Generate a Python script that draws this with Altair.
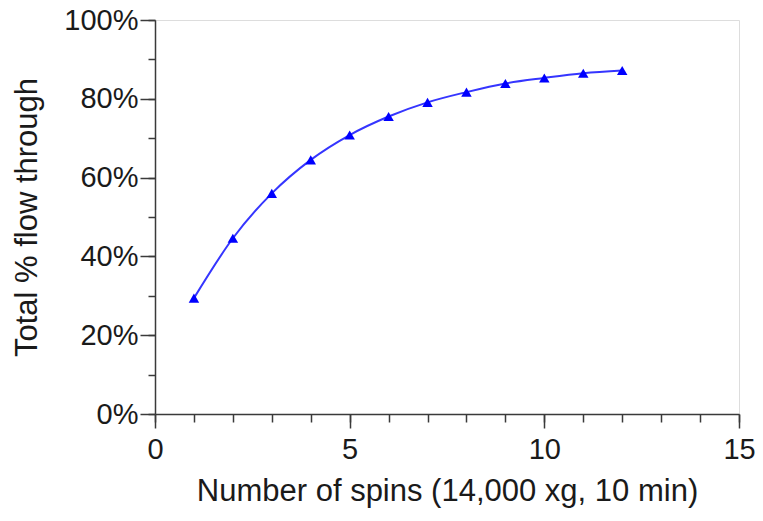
import altair as alt
import pandas as pd

spins = [1, 2, 3, 4, 5, 6, 7, 8, 9, 10, 11, 12]
flow_pct = [29.4, 44.6, 56.0, 64.5, 70.8, 75.5, 79.1, 81.7, 83.9, 85.3, 86.5, 87.2]

x_major = [0, 5, 10, 15]
x_minor = list(range(0, 16))
y_major = [0, 20, 40, 60, 80, 100]
y_minor = list(range(0, 101, 10))

df = pd.DataFrame({"spins": spins, "flow": flow_pct})

FONT = "Liberation Sans"
AX = "#3a3a3a"
TXT = "#1a1a1a"

x_scale = alt.Scale(domain=[0, 15], nice=False, zero=False)
y_scale = alt.Scale(domain=[0, 100], nice=False)

line = alt.Chart(df).mark_line(
    color="#3535ff", strokeWidth=2, interpolate="monotone"
).encode(
    x=alt.X("spins:Q", scale=x_scale, axis=alt.Axis(
        orient="bottom", values=x_major, title="Number of spins (14,000 xg, 10 min)",
        tickSize=14, labelPadding=7, titlePadding=12, grid=False, labelFlush=False,
        domainColor=AX, tickColor=AX, domainWidth=1.5, tickWidth=1.5,
        labelFont=FONT, labelFontSize=29, labelColor=TXT,
        titleFont=FONT, titleFontSize=31, titleFontWeight="normal", titleColor=TXT,
    )),
    y=alt.Y("flow:Q", scale=y_scale, axis=alt.Axis(
        orient="left", values=y_major, labelExpr="datum.value + '%'",
        title="Total % flow through",
        tickSize=15, labelPadding=2, titlePadding=20, grid=False, labelFlush=False,
        domainColor=AX, tickColor=AX, domainWidth=1.5, tickWidth=1.5,
        labelFont=FONT, labelFontSize=29, labelColor=TXT,
        titleFont=FONT, titleFontSize=31, titleFontWeight="normal", titleColor=TXT,
    )),
)

points = alt.Chart(df).mark_point(
    shape="triangle-up", filled=True, color="#0000ff", size=110, opacity=1
).encode(
    x=alt.X("spins:Q", scale=x_scale, axis=alt.Axis(
        orient="bottom", values=x_minor, labels=False, title=None, domain=False,
        tickSize=8, tickColor=AX, tickWidth=1.5, grid=False,
    )),
    y=alt.Y("flow:Q", scale=y_scale, axis=alt.Axis(
        orient="left", values=y_minor, labels=False, title=None, domain=False,
        tickSize=7, tickColor=AX, tickWidth=1.5, grid=False,
    )),
)

chart = alt.layer(line, points).resolve_axis(x="independent", y="independent").properties(
    width=584, height=394,
    autosize=alt.AutoSizeParams(type="none"),
    padding={"left": 147, "top": 12, "right": 16, "bottom": 95},
).configure_view(strokeWidth=0, strokeOpacity=0).configure(background="white")

chart.save("out.html", embed_options={"renderer": "svg", "actions": False})
